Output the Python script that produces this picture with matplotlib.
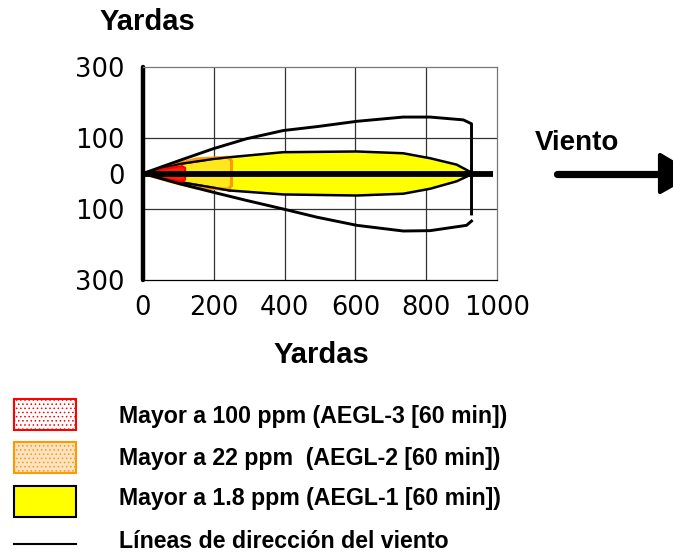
import matplotlib
matplotlib.use("Agg")
import matplotlib.pyplot as plt
from matplotlib.patches import Polygon, Rectangle
from matplotlib.lines import Line2D

# ---- data (yards) ----
outer_upper_x = [0, 104, 199, 293, 396, 491, 604, 735, 811, 905, 928, 928]
outer_upper_y = [0, 37, 70, 98, 121, 132, 147, 159, 159, 151, 140, -114]
outer_lower_x = [928, 914, 811, 735, 604, 491, 396, 293, 199, 104, 0]
outer_lower_y = [-134, -146, -161, -162, -146, -123, -100, -76, -53, -29, 0]

aegl1_x = [0, 104, 199, 246, 396, 604, 735, 811, 886, 933, 886, 811, 735, 604, 396, 246, 199, 104, 0]
aegl1_y = [0, 27, 41, 46, 60, 62, 57, 43, 25, 0, -22, -43, -57, -62, -59, -48, -40, -24, 0]

aegl2_x = [0, 76, 152, 240, 250, 250, 240, 152, 76, 0]
aegl2_y = [0, 22, 41, 46, 36, -35, -44, -41, -22, 0]

aegl3_x = [0, 60, 110, 119, 119, 110, 60, 0]
aegl3_y = [0, 13, 21, 16, -17, -23, -14, 0]

center_x = [0, 989]
center_y = [0, 0]

xticks = [0, 200, 400, 600, 800, 1000]
yticks = [300, 100, 0, -100, -300]
ytick_labels = ["300", "100", "0", "100", "300"]

legend_labels = [
    "Mayor a 100 ppm (AEGL-3 [60 min])",
    "Mayor a 22 ppm  (AEGL-2 [60 min])",
    "Mayor a 1.8 ppm (AEGL-1 [60 min])",
    "Líneas de dirección del viento",
]

W, H = 673, 554
fig = plt.figure(figsize=(W / 100, H / 100), dpi=100)

def fx(px):
    return px / W

def fy(py):
    return 1 - py / H

ax = fig.add_axes([fx(143), fy(280), fx(497) - fx(143), fy(67) - fy(280)])
ax.set_xlim(0, 1000)
ax.set_ylim(-300, 300)

# grid
for gx in [200, 400, 600, 800]:
    ax.axvline(gx, color="#333333", lw=0.9, zorder=1)
for gy in [100, -100]:
    ax.axhline(gy, color="#333333", lw=0.9, zorder=1)

# AEGL-1 yellow
ax.add_patch(Polygon(list(zip(aegl1_x, aegl1_y)), closed=True, facecolor="#ffff00",
                     edgecolor="black", lw=1.8, zorder=2, joinstyle="round"))
# AEGL-2 orange
ax.add_patch(Polygon(list(zip(aegl2_x, aegl2_y)), closed=True, facecolor=(1, 0.75, 0.3, 0.35),
                     edgecolor="#ff9900", lw=2.2, zorder=3, joinstyle="round"))
# redraw yellow outline inside orange
ax.plot(aegl1_x[:4], aegl1_y[:4], color="black", lw=1.6, zorder=3.5)
ax.plot(aegl1_x[-4:], aegl1_y[-4:], color="black", lw=1.6, zorder=3.5)
# AEGL-3 red
ax.add_patch(Polygon(list(zip(aegl3_x, aegl3_y)), closed=True, facecolor="#ff2000",
                     edgecolor="#ff0000", lw=1.5, zorder=4, joinstyle="round"))

# wind direction lines
ax.plot(outer_upper_x, outer_upper_y, color="black", lw=2.1, zorder=5, solid_joinstyle="round")
ax.plot(outer_lower_x, outer_lower_y, color="black", lw=2.1, zorder=5, solid_joinstyle="round")
ax.plot(center_x, center_y, color="black", lw=4.2, zorder=6, solid_capstyle="butt")

# spines
for s in ["top", "right"]:
    ax.spines[s].set_color("#777777")
    ax.spines[s].set_linewidth(0.9)
ax.spines["bottom"].set_color("black")
ax.spines["bottom"].set_linewidth(0.9)
ax.spines["left"].set_color("black")
ax.spines["left"].set_linewidth(3.2)
ax.spines["left"].set_capstyle("round")

ax.set_xticks(xticks)
ax.set_xticklabels([str(v) for v in xticks])
ax.set_yticks(yticks)
ax.set_yticklabels(ytick_labels)
ax.tick_params(axis="both", length=0, labelsize=18.5)
ax.tick_params(axis="y", pad=13)
ax.tick_params(axis="x", pad=11)
for lab in ax.get_xticklabels() + ax.get_yticklabels():
    lab.set_fontfamily("DejaVu Sans")

bold = dict(fontfamily="Liberation Sans", fontweight="bold")
fig.text(fx(147), fy(22), "Yardas", ha="center", va="center", fontsize=21, **bold)
fig.text(fx(321), fy(355), "Yardas", ha="center", va="center", fontsize=21, **bold)
fig.text(fx(577), fy(143), "Viento", ha="center", va="center", fontsize=20, **bold)

# wind arrow
fig.add_artist(Line2D([fx(557), fx(662)], [fy(174), fy(174)], color="black", lw=5.2,
                      solid_capstyle="round", transform=fig.transFigure))
fig.add_artist(Polygon([(fx(660), fy(155)), (fx(660), fy(192)), (fx(692), fy(174))], closed=True,
                       facecolor="black", edgecolor="black", lw=3, joinstyle="round",
                       transform=fig.transFigure))

# legend
plt.rcParams["hatch.linewidth"] = 0.6
lx0, lx1 = 14, 76
fig.add_artist(Rectangle((fx(lx0), fy(430)), fx(lx1) - fx(lx0), fy(399) - fy(430),
                         facecolor="white", edgecolor="#ff0000", hatch="....", lw=1.5,
                         transform=fig.transFigure))
fig.add_artist(Rectangle((fx(lx0), fy(473)), fx(lx1) - fx(lx0), fy(442) - fy(473),
                         facecolor="#fde3c4", edgecolor="#ff9900", hatch="....", lw=1.5,
                         transform=fig.transFigure))
fig.add_artist(Rectangle((fx(lx0), fy(517)), fx(lx1) - fx(lx0), fy(486) - fy(517),
                         facecolor="#ffff00", edgecolor="black", lw=1.5,
                         transform=fig.transFigure))
fig.add_artist(Line2D([fx(lx0), fx(lx1)], [fy(544), fy(544)], color="black", lw=1.5,
                      transform=fig.transFigure))

for ty, lab in zip([417, 459, 499, 541], legend_labels):
    fig.text(fx(119), fy(ty), lab, ha="left", va="center", fontsize=16.7, **bold)

fig.savefig("out.png", dpi=100)
